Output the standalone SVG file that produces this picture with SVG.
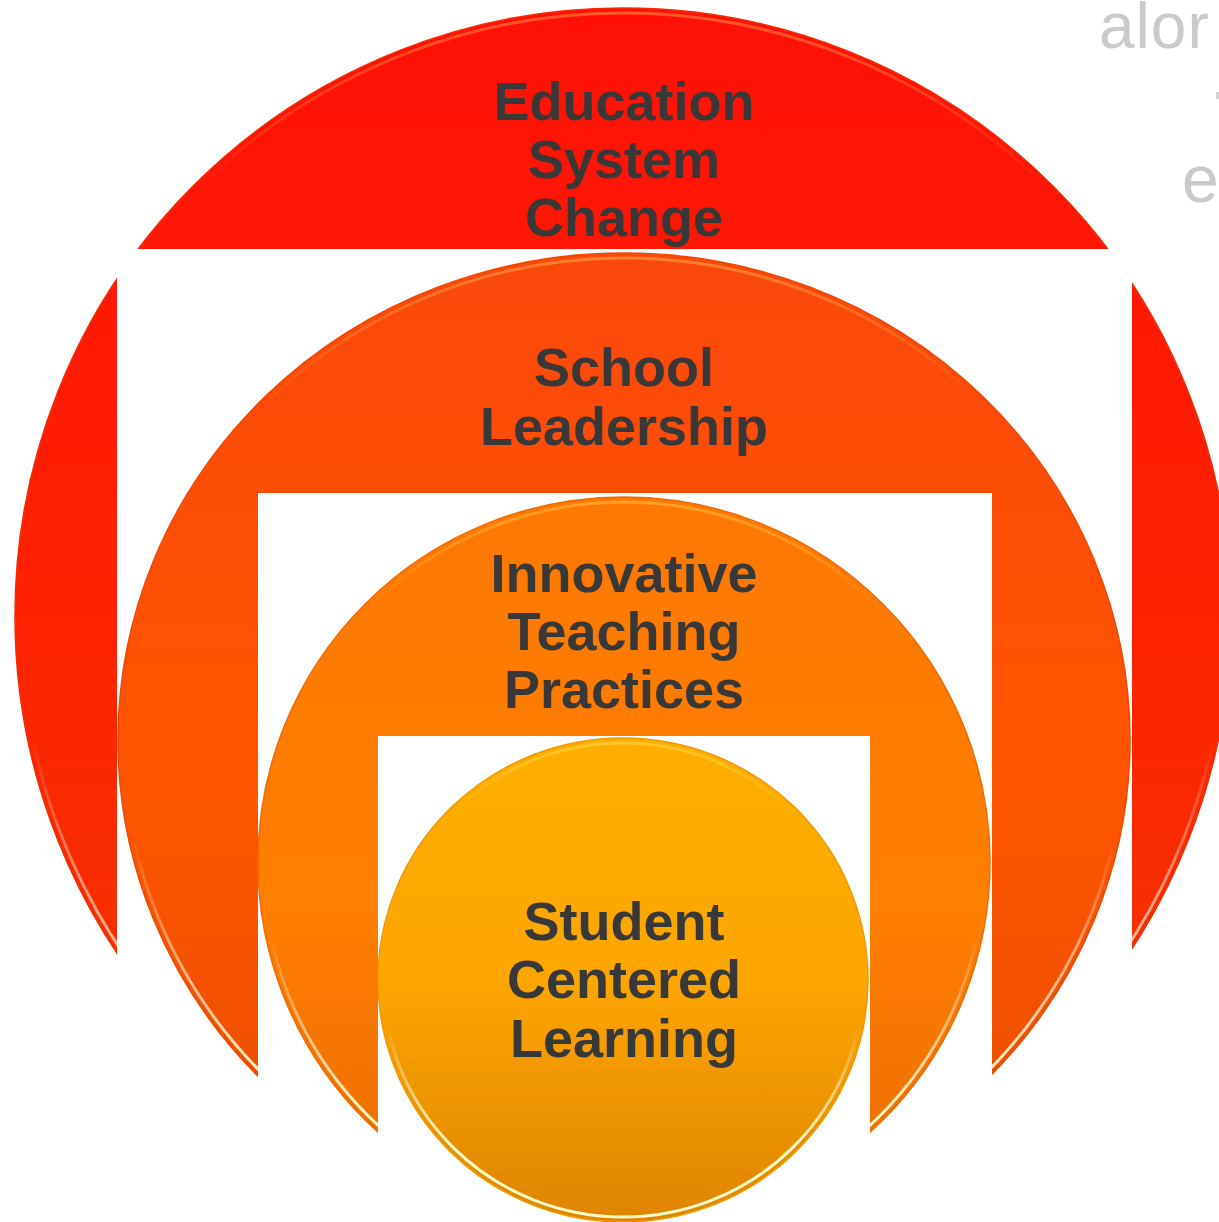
<svg xmlns="http://www.w3.org/2000/svg" width="1219" height="1222" viewBox="0 0 1219 1222">
<defs>
<linearGradient id="g1" x1="0" y1="0" x2="0" y2="1">
<stop offset="0" stop-color="#fe1007"/><stop offset="0.5" stop-color="#ff2200"/><stop offset="1" stop-color="#ee3a00"/>
</linearGradient>
<linearGradient id="g2" x1="0" y1="0" x2="0" y2="1">
<stop offset="0" stop-color="#fb480c"/><stop offset="0.55" stop-color="#ff5500"/><stop offset="1" stop-color="#e54e00"/>
</linearGradient>
<linearGradient id="g3" x1="0" y1="0" x2="0" y2="1">
<stop offset="0" stop-color="#ff7800"/><stop offset="0.55" stop-color="#ff7f00"/><stop offset="1" stop-color="#e86b00"/>
</linearGradient>
<linearGradient id="g4" x1="0" y1="0" x2="0" y2="1">
<stop offset="0" stop-color="#ffae00"/><stop offset="0.5" stop-color="#fda600"/><stop offset="1" stop-color="#de8400"/>
</linearGradient>
<linearGradient id="hl" x1="0" y1="0" x2="0" y2="1">
<stop offset="0" stop-color="#ffff80" stop-opacity="0.3"/><stop offset="0.15" stop-color="#ffff90" stop-opacity="0"/><stop offset="0.6" stop-color="#fff" stop-opacity="0"/><stop offset="0.85" stop-color="#ffffd0" stop-opacity="0.95"/><stop offset="1" stop-color="#ffffd0" stop-opacity="0.95"/>
</linearGradient>
<style>
.lbl{font-family:"Liberation Sans",Arial,sans-serif;font-weight:bold;font-size:54px;fill:#383838;text-anchor:middle}
.hl{fill:none;stroke:url(#hl);stroke-width:3}
.cut{fill:#fff}
.gray{font-family:"Liberation Sans",Arial,sans-serif;fill:#cacaca}
</style>
</defs>
<rect width="1219" height="1222" fill="#fff"/>
<g id="bg-text">
<text class="gray" x="1099" y="48" font-size="64" letter-spacing="1">alor</text>
<rect x="1216" y="92" width="3" height="7" fill="#d0d0d0"/>
<text class="gray" x="1182" y="202" font-size="66">e</text>
</g>
<g id="node-education-system-change">
<ellipse cx="623" cy="616" rx="608" ry="608" fill="url(#g1)" stroke="#f42a00" stroke-width="1.5"/>
<ellipse class="hl" cx="623" cy="616" rx="603" ry="603"/>
<text class="lbl" x="624" y="120">Education</text>
<text class="lbl" x="624" y="178">System</text>
<text class="lbl" x="624" y="236">Change</text>
</g>
<rect class="cut" x="117" y="249" width="1015" height="973"/>
<g id="node-school-leadership">
<ellipse cx="624" cy="740" rx="506" ry="487" fill="url(#g2)" stroke="#f04800" stroke-width="1.5"/>
<ellipse class="hl" cx="624" cy="740" rx="501" ry="482"/>
<text class="lbl" x="624" y="386">School</text>
<text class="lbl" x="624" y="445">Leadership</text>
</g>
<rect class="cut" x="258" y="493" width="734" height="729"/>
<g id="node-innovative-teaching-practices">
<ellipse cx="624" cy="862" rx="366" ry="365" fill="url(#g3)" stroke="#f06a00" stroke-width="1.5"/>
<ellipse class="hl" cx="624" cy="862" rx="361" ry="360"/>
<text class="lbl" x="624" y="592">Innovative</text>
<text class="lbl" x="624" y="650">Teaching</text>
<text class="lbl" x="624" y="708">Practices</text>
</g>
<rect class="cut" x="378" y="736" width="492" height="486"/>
<g id="node-student-centered-learning">
<ellipse cx="623" cy="980" rx="245" ry="242" fill="url(#g4)" stroke="#f09a00" stroke-width="1.5"/>
<ellipse class="hl" cx="623" cy="980" rx="240" ry="237"/>
<text class="lbl" x="624" y="940">Student</text>
<text class="lbl" x="624" y="998">Centered</text>
<text class="lbl" x="624" y="1057">Learning</text>
</g>
<g id="connectors"/>
</svg>
